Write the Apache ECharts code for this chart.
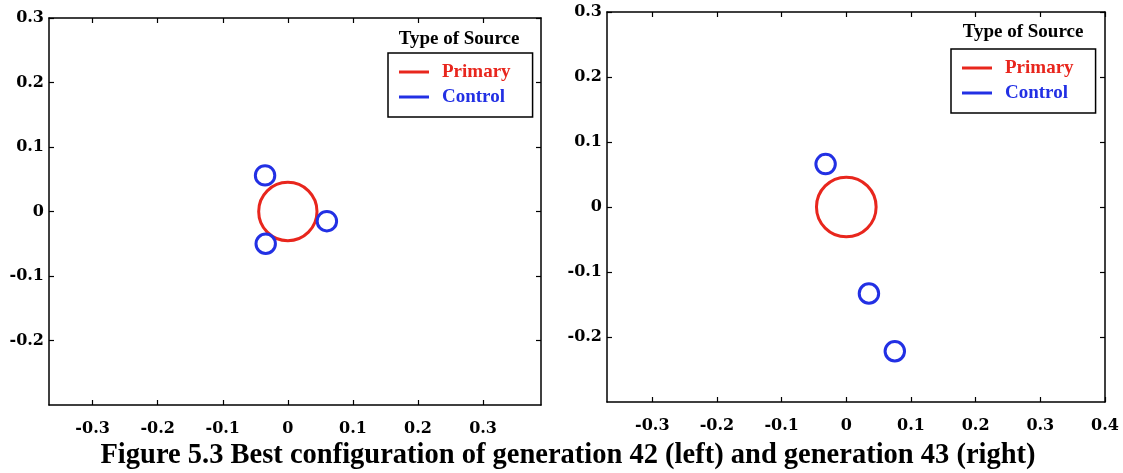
<!DOCTYPE html>
<html>
<head>
<meta charset="utf-8">
<title>Figure 5.3</title>
<script src="https://cdn.jsdelivr.net/npm/echarts@6/dist/echarts.min.js"></script>
<style>
  html, body { margin: 0; padding: 0; background: #fff; }
  #chart { width: 1123px; height: 473px; }
</style>
</head>
<body>
<div id="chart"></div>
<script>
// Source positions [x, y, radius] for generation 42 (left panel)
const primaryGen42 = [[0, 0, 0.045]];
const controlGen42 = [[-0.035, 0.056, 0.015], [0.060, -0.015, 0.015], [-0.034, -0.050, 0.015]];

// Source positions [x, y, radius] for generation 43 (right panel)
const primaryGen43 = [[0, 0, 0.046]];
const controlGen43 = [[-0.032, 0.066, 0.015], [0.035, -0.133, 0.015], [0.075, -0.222, 0.015]];

// Tick labels
const xTicksLeft = [-0.3, -0.2, -0.1, 0, 0.1, 0.2, 0.3];
const xTicksRight = [-0.3, -0.2, -0.1, 0, 0.1, 0.2, 0.3, 0.4];
const yTicks = [-0.2, -0.1, 0, 0.1, 0.2, 0.3];

// Axis extents of each panel (equal aspect ratio)
const xRangeLeft = [-0.367, 0.389];
const xRangeRight = [-0.37, 0.4];
const yRange = [-0.3, 0.3];

const sourceTypes = ['Primary', 'Control'];
const RED = '#e8261d';
const BLUE = '#2230e4';
const TICK_FONT = 'DejaVu Serif';
const TEXT_FONT = 'Liberation Serif';

const fmt = v => (Math.abs(v) < 1e-9 ? '0' : String(Math.round(v * 10) / 10));

function xAxes(gridIndex, range, ticks) {
  const common = {
    type: 'value', gridIndex, min: range[0], max: range[1],
    splitLine: { show: false },
    axisLine: { show: true, onZero: false, lineStyle: { color: '#000', width: 1.5 } },
    axisTick: { show: true, inside: true, length: 5, customValues: ticks, lineStyle: { color: '#000', width: 1.2 } }
  };
  return [
    Object.assign({}, common, {
      position: 'bottom',
      axisLabel: { show: true, customValues: ticks, formatter: fmt, margin: 16,
        color: '#000', fontFamily: TICK_FONT, fontWeight: 'bold', fontSize: 16 }
    }),
    Object.assign({}, common, { position: 'top', axisLabel: { show: false } })
  ];
}

function yAxes(gridIndex, ticks) {
  const common = {
    type: 'value', gridIndex, min: yRange[0], max: yRange[1],
    splitLine: { show: false },
    axisLine: { show: true, onZero: false, lineStyle: { color: '#000', width: 1.5 } },
    axisTick: { show: true, inside: true, length: 5, customValues: ticks, lineStyle: { color: '#000', width: 1.2 } }
  };
  return [
    Object.assign({}, common, {
      position: 'left',
      axisLabel: { show: true, customValues: ticks, formatter: fmt, margin: 5,
        color: '#000', fontFamily: TICK_FONT, fontWeight: 'bold', fontSize: 16 }
    }),
    Object.assign({}, common, { position: 'right', axisLabel: { show: false } })
  ];
}

// Each source is a ring whose radius is measured in axis units
function ringSeries(name, data, color, axisIndex) {
  return {
    type: 'custom', name, data,
    xAxisIndex: axisIndex, yAxisIndex: axisIndex,
    itemStyle: { color },
    encode: { x: 0, y: 1 },
    renderItem: function (params, api) {
      const c = api.coord([api.value(0), api.value(1)]);
      const s = api.size([api.value(2), api.value(2)]);
      return {
        type: 'circle',
        shape: { cx: c[0], cy: c[1], r: (s[0] + s[1]) / 2 },
        style: { fill: 'none', stroke: color, lineWidth: 3 }
      };
    }
  };
}

function legendBox(left, top) {
  return {
    left, top, orient: 'vertical',
    backgroundColor: '#fff',
    borderColor: '#000', borderWidth: 1.5, borderRadius: 0,
    padding: [9, 22, 10, 11], itemGap: 5,
    icon: 'rect', itemWidth: 30, itemHeight: 3,
    selectedMode: false,
    textStyle: { fontFamily: TEXT_FONT, fontSize: 19, fontWeight: 'bold', lineHeight: 20, padding: [0, 0, 0, 8] },
    data: [
      { name: sourceTypes[0], textStyle: { color: RED } },
      { name: sourceTypes[1], textStyle: { color: BLUE } }
    ]
  };
}

const xl = xAxes(0, xRangeLeft, xTicksLeft);
const xr = xAxes(1, xRangeRight, xTicksRight);
const yl = yAxes(0, yTicks);
const yr = yAxes(1, yTicks);

const option = {
  backgroundColor: '#fff',
  animation: false,
  grid: [
    { left: 49, top: 18, width: 492, height: 387, containLabel: false, outerBoundsMode: 'none' },
    { left: 607, top: 12, width: 498, height: 390, containLabel: false, outerBoundsMode: 'none' }
  ],
  // order: left bottom(0), left top(1), right bottom(2), right top(3)
  xAxis: [xl[0], xl[1], xr[0], xr[1]],
  yAxis: [yl[0], yl[1], yr[0], yr[1]],
  legend: [legendBox(388, 53), legendBox(951, 49)],
  series: [
    ringSeries(sourceTypes[0], primaryGen42, RED, 0),
    ringSeries(sourceTypes[1], controlGen42, BLUE, 0),
    ringSeries(sourceTypes[0], primaryGen43, RED, 2),
    ringSeries(sourceTypes[1], controlGen43, BLUE, 2)
  ],
  graphic: [
    { type: 'text', x: 459, y: 39,
      style: { text: 'Type of Source', fill: '#000', font: 'bold 19px "Liberation Serif"', align: 'center', verticalAlign: 'middle' } },
    { type: 'text', x: 1023, y: 32,
      style: { text: 'Type of Source', fill: '#000', font: 'bold 19px "Liberation Serif"', align: 'center', verticalAlign: 'middle' } },
    { type: 'text', x: 568, y: 456,
      style: { text: 'Figure 5.3 Best configuration of generation 42 (left) and generation 43 (right)',
        fill: '#000', font: 'bold 28.5px "Liberation Serif"', align: 'center', verticalAlign: 'middle' } }
  ]
};

const chart = echarts.init(document.getElementById('chart'), null, { renderer: 'canvas' });
chart.setOption(option);
</script>
</body>
</html>
